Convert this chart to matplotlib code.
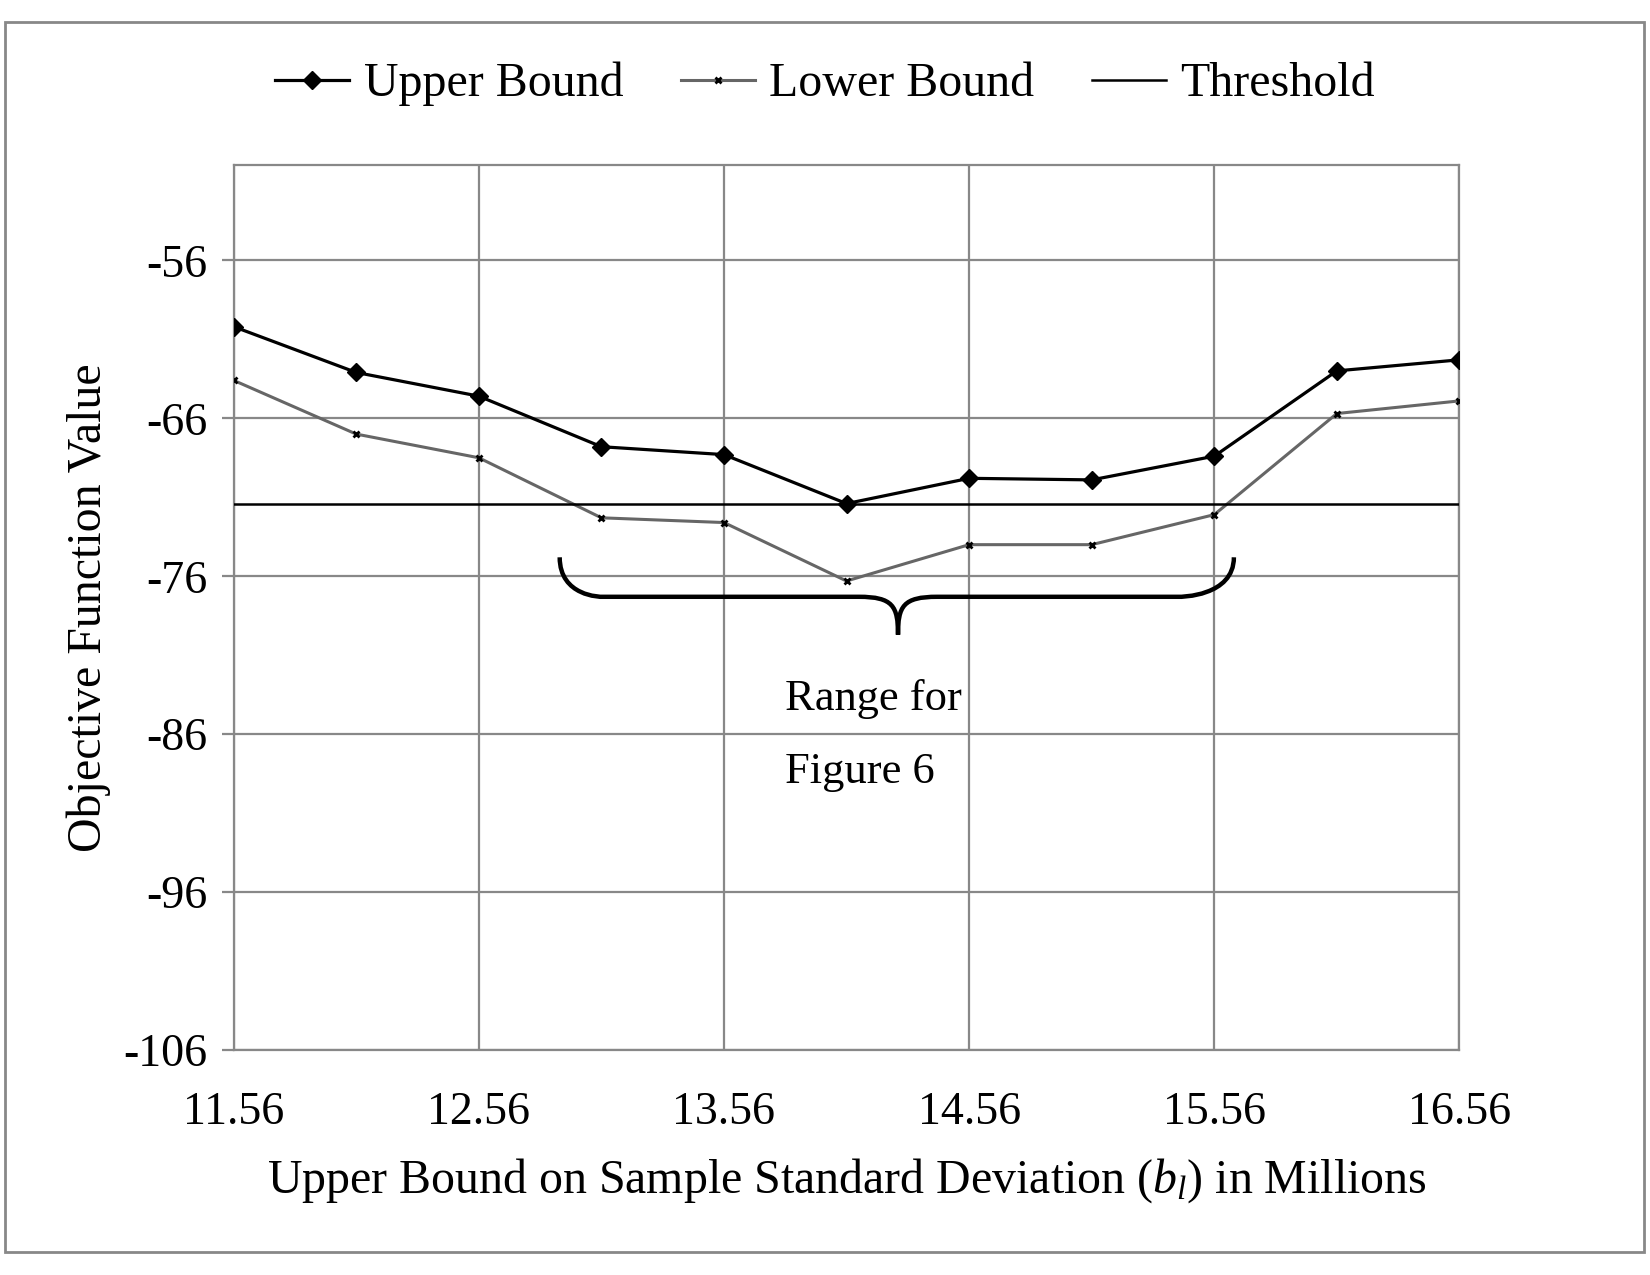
import matplotlib
matplotlib.use("Agg")
import matplotlib.pyplot as plt
from matplotlib.path import Path
from matplotlib.patches import PathPatch, Rectangle

# ---- data ----
x_vals = [11.56, 12.06, 12.56, 13.06, 13.56, 14.06, 14.56, 15.06, 15.56, 16.06, 16.56]
upper_bound = [-60.2, -63.1, -64.6, -67.8, -68.3, -71.4, -69.8, -69.9, -68.4, -63.0, -62.3]
lower_bound = [-63.6, -67.0, -68.5, -72.3, -72.6, -76.3, -74.0, -74.0, -72.1, -65.7, -64.9]
threshold = -71.4
x_ticks = [11.56, 12.56, 13.56, 14.56, 15.56, 16.56]
y_ticks = [-56, -66, -76, -86, -96, -106]

plt.rcParams['font.family'] = ['Liberation Serif', 'DejaVu Serif']
plt.rcParams['mathtext.fontset'] = 'custom'
plt.rcParams['mathtext.it'] = 'Liberation Serif:italic'
plt.rcParams['mathtext.rm'] = 'Liberation Serif'
plt.rcParams['axes.unicode_minus'] = False
plt.rcParams['font.size'] = 34.5

grid_c = '#888888'

fig = plt.figure(figsize=(16.5, 12.75), dpi=100)
ax = fig.add_axes([0.1416, 0.1763, 0.8845 - 0.1416, 0.8702 - 0.1763])

ax.plot(x_vals, upper_bound, color='black', lw=2.3, marker='D', ms=9.5, label='Upper Bound', zorder=4)
ax.plot(x_vals, lower_bound, color='#666666', lw=2.2, marker='x', ms=5, mew=2,
        mec='black', label='Lower Bound', zorder=3)
ax.plot([x_vals[0], x_vals[-1]], [threshold, threshold], color='black', lw=1.8, label='Threshold', zorder=3)

ax.set_xlim(11.56, 16.56)
ax.set_ylim(-106, -50)
ax.set_xticks(x_ticks)
ax.set_xticklabels([f"{v:.2f}" for v in x_ticks])
ax.set_yticks(y_ticks)
ax.grid(True, color=grid_c, lw=1.6, zorder=0)
for s in ax.spines.values():
    s.set_color(grid_c)
    s.set_linewidth(1.6)
ax.tick_params(axis='y', length=9, width=1.6, color=grid_c, pad=10, labelsize=33)
ax.tick_params(axis='x', length=0, pad=30, labelsize=33)

ax.set_xlabel(r"Upper Bound on Sample Standard Deviation ($\mathit{b_l}$) in Millions", labelpad=16)
ax.set_ylabel("Objective Function Value", labelpad=9)

# curly brace marking the range for Figure 6
xl, xr, xm = 12.89, 15.64, 14.27
y_top, y_mid, y_tip = -74.8, -77.3, -79.7
verts = [(xl, y_top), (xl, y_mid), (13.06, y_mid), (13.06, y_mid),
         (14.11, y_mid),
         (xm - 0.02, y_mid), (xm, y_mid - 0.6), (xm, y_tip),
         (xm, y_mid - 0.6), (xm + 0.02, y_mid), (14.43, y_mid),
         (15.42, y_mid),
         (15.42, y_mid), (xr, y_mid), (xr, y_top)]
codes = [Path.MOVETO, Path.CURVE4, Path.CURVE4, Path.CURVE4,
         Path.LINETO,
         Path.CURVE4, Path.CURVE4, Path.CURVE4,
         Path.CURVE4, Path.CURVE4, Path.CURVE4,
         Path.LINETO,
         Path.CURVE4, Path.CURVE4, Path.CURVE4]
ax.add_patch(PathPatch(Path(verts, codes), fill=False, lw=3.2, ec='black', zorder=5, clip_on=False))
ax.text(13.81, -83.8, "Range for", ha='left', va='center', fontsize=32)
ax.text(13.81, -88.4, "Figure 6", ha='left', va='center', fontsize=32)

fig.legend(loc='center', bbox_to_anchor=(0.5, 0.934), ncol=3, frameon=False,
           handlelength=1.55, handletextpad=0.3, columnspacing=1.2)

fig.patches.append(Rectangle((0.003, 0.018), 0.9934, 0.9647, transform=fig.transFigure,
                             fill=False, ec=grid_c, lw=2))

fig.savefig("out.png", dpi=100)
